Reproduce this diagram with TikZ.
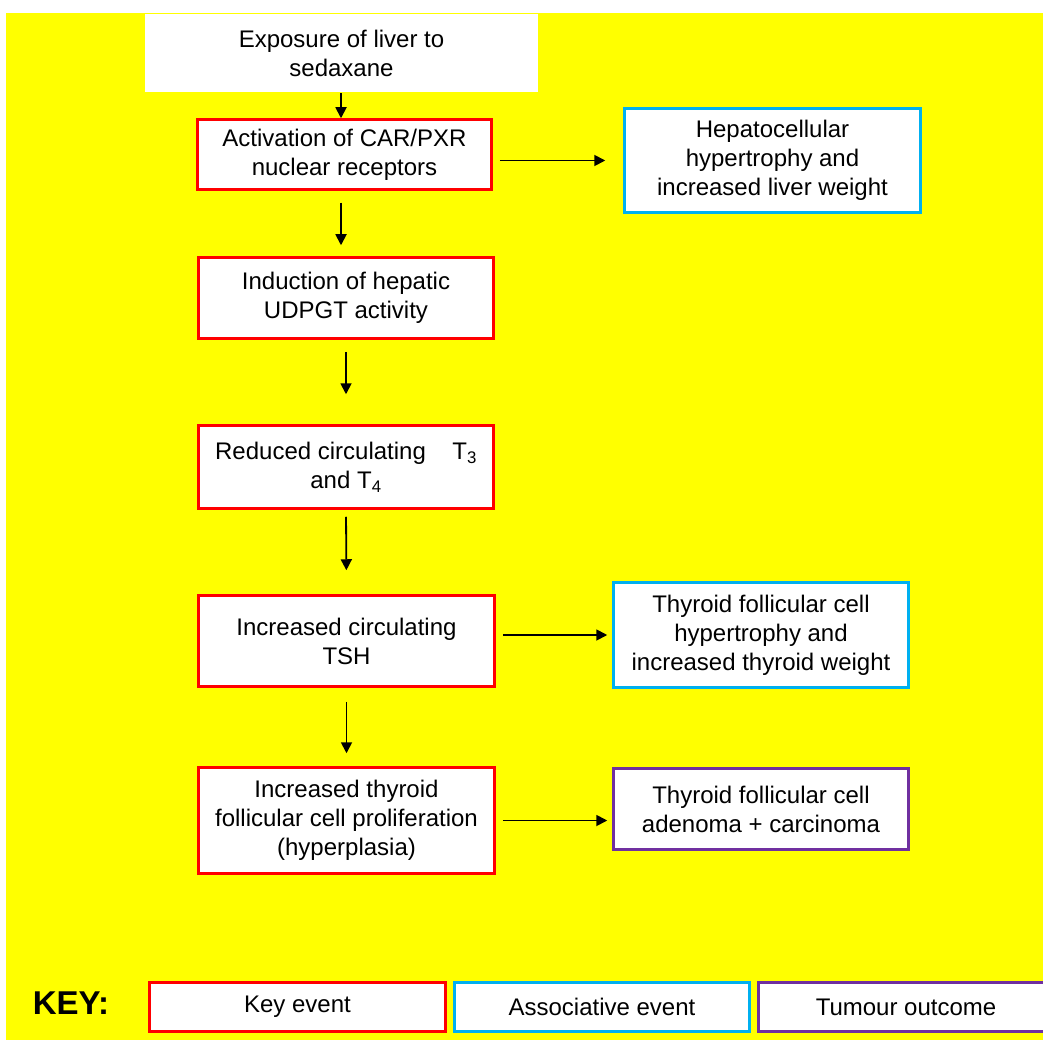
\documentclass[tikz,border=0pt]{standalone}
\usepackage{fontspec}
\setmainfont{Liberation Sans}
\usetikzlibrary{arrows.meta}
\definecolor{bgyellow}{HTML}{FFFF00}
\definecolor{keyred}{HTML}{FF0000}
\definecolor{assocblue}{HTML}{00B0F0}
\definecolor{tumpurple}{HTML}{7030A0}
\tikzset{
  box/.style={rectangle, fill=white, line width=2.5pt, align=center, inner sep=2pt,
    font=\fontsize{24}{29}\selectfont, text=black},
  keybox/.style={box, draw=keyred},
  assocbox/.style={box, draw=assocblue},
  tumbox/.style={box, draw=tumpurple},
  plainbox/.style={box, draw=none},
  arr/.style={line width=1.8pt, -{Triangle[length=11pt,width=11pt]}},
}
\begin{document}
\begin{tikzpicture}[x=1pt,y=-1pt]
\useasboundingbox (0,0) rectangle (1043,1040);
\clip (0,0) rectangle (1043,1040);
\fill[white] (0,0) rectangle (1043,1040);
\fill[bgyellow] (6,13) rectangle (1043,1040);

\node[plainbox, minimum width=393pt, minimum height=78pt] (exp) at (341.5,53) {Exposure of liver to\\sedaxane};
\node[keybox, minimum width=294pt, minimum height=70pt] (act) at (344.5,154.5) {Activation of CAR/PXR\\nuclear receptors};
\node[assocbox, minimum width=296pt, minimum height=104pt] (hep) at (772.5,160.5) {Hepatocellular\\hypertrophy and\\increased liver weight};
\node[keybox, minimum width=295pt, minimum height=81pt] (ind) at (346,298) {Induction of hepatic\\UDPGT activity};
\node[keybox, minimum width=295pt, minimum height=83pt] (red) at (346,467) {Reduced circulating\hspace{1.1em}T\textsubscript{3}\\and T\textsubscript{4}};
\node[keybox, minimum width=296pt, minimum height=91pt] (tsh) at (346.5,641) {Increased circulating\\TSH};
\node[assocbox, minimum width=295pt, minimum height=105pt] (thy) at (761,635) {Thyroid follicular cell\\hypertrophy and\\increased thyroid weight};
\node[keybox, minimum width=296pt, minimum height=106pt] (pro) at (346.5,820.5) {Increased thyroid\\follicular cell proliferation\\(hyperplasia)};
\node[tumbox, minimum width=295pt, minimum height=81pt] (tum) at (761,809) {Thyroid follicular cell\\adenoma + carcinoma};

\node[font=\fontsize{33}{36}\selectfont\bfseries, text=black, inner sep=0pt] (keylab) at (71,1003) {KEY:};
\node[keybox, minimum width=296pt, minimum height=49pt] (k1) at (297.5,1007) {Key event};
\node[assocbox, minimum width=295pt, minimum height=49pt] (k2) at (602,1007) {Associative event};
\node[tumbox, minimum width=295pt, minimum height=49pt] (k3) at (906,1007) {Tumour outcome};

\draw[arr] ([xshift=-0.5pt]exp.south) -- ([xshift=-3.5pt]act.north);
\draw[arr, shorten <=12pt, shorten >=11pt] ([xshift=-3.5pt]act.south) -- ([xshift=-5pt]ind.north);
\draw[arr, shorten <=12pt, shorten >=30pt] (ind.south) -- (red.north);
\draw[arr, shorten <=7pt, shorten >=24pt] (red.south) -- (tsh.north);
\draw[arr, shorten <=14pt, shorten >=13pt] (tsh.south) -- (pro.north);
\draw[arr, shorten <=7pt, shorten >=18pt] (act.east |- hep.west) -- (hep.west);
\draw[arr, shorten <=7pt, shorten >=5pt] (tsh.east |- thy.west) -- (thy.west);
\draw[arr, shorten <=7pt, shorten >=5pt] (pro.east) -- (pro.east -| tum.west);
\end{tikzpicture}
\end{document}
